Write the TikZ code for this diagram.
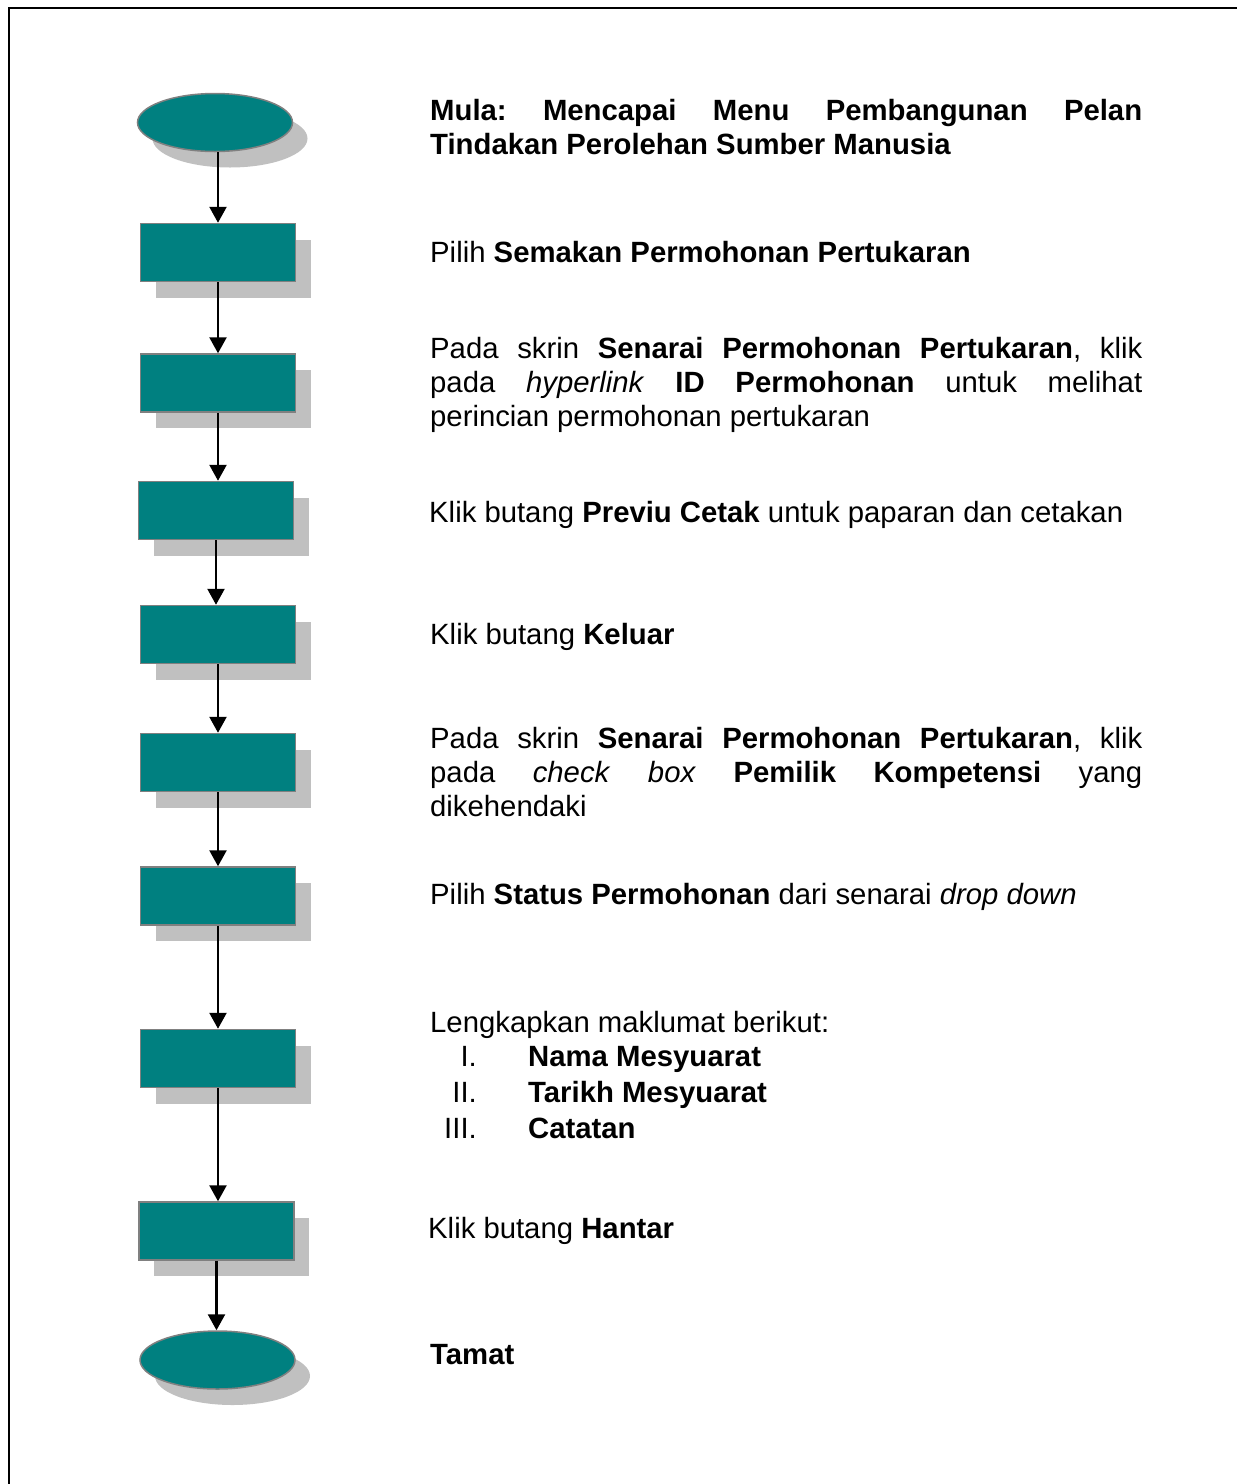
\documentclass[tikz,border=0pt]{standalone}
\usepackage{fontspec}
\setmainfont{Liberation Sans}
\usetikzlibrary{shapes.geometric,shadows,arrows.meta}
\definecolor{tealfill}{HTML}{008080}
\definecolor{edgegray}{HTML}{808080}
\definecolor{shadowgray}{HTML}{C0C0C0}
\begin{document}
\begin{tikzpicture}[x=1pt,y=-1pt,
  shadowed/.style={drop shadow={shadow xshift=15pt, shadow yshift=-16pt, fill=shadowgray, opacity=1}},
  procbox/.style={rectangle, draw=edgegray, line width=1.5pt, fill=tealfill,
    minimum width=155pt, minimum height=58pt, inner sep=0pt, shadowed},
  termnode/.style={ellipse, draw=edgegray, line width=1.5pt, fill=tealfill,
    minimum width=155pt, minimum height=58pt, inner sep=0pt, shadowed},
  arr/.style={line width=2.4pt, -{Triangle[width=17pt,length=16pt]}},
  txt/.style={anchor=base west, inner sep=0pt, font=\fontsize{29.3}{34}\selectfont},
  numtxt/.style={anchor=base east, inner sep=0pt, font=\fontsize{29.3}{34}\selectfont}]
\useasboundingbox (0,0) rectangle (1237,1484);
% frame
\draw[line width=2.5pt] (9,1484) -- (9,8) -- (1237,8);
% shapes
\node[termnode] (e1) at (215,122.5) {};
\node[procbox] (b1) at (218,252.5) {};
\node[procbox] (b2) at (218,383) {};
\node[procbox] (b3) at (216,510.5) {};
\node[procbox] (b4) at (218,634.5) {};
\node[procbox] (b5) at (218,762.5) {};
\node[procbox] (b6) at (218,896) {};
\node[procbox] (b7) at (218,1058.5) {};
\node[procbox] (b8) at (216.5,1231) {};
\node[termnode] (e2) at (217.5,1360) {};
% connectors
\draw[arr] (b1.north |- e1.south) -- (b1.north);
\draw[arr] (b1.south) -- (b1.south |- b2.north);
\draw[arr] (b2.south) -- (b2.south |- b3.north);
\draw[arr] (b3.south) -- (b3.south |- b4.north);
\draw[arr] (b4.south) -- (b4.south |- b5.north);
\draw[arr] (b5.south) -- (b5.south |- b6.north);
\draw[arr] (b6.south) -- (b6.south |- b7.north);
\draw[arr] (b7.south) -- (b7.south |- b8.north);
\draw[arr] (b8.south) -- (b8.south |- e2.north);
% texts
\node[txt] (t1a) at (430,120) {\hbox to 712pt{\bfseries Mula:\hfill Mencapai\hfill Menu\hfill Pembangunan\hfill Pelan}};
\node[txt] (t1b) at (430,154) {\textbf{Tindakan Perolehan Sumber Manusia}};
\node[txt] (t2) at (430,262) {Pilih \textbf{Semakan Permohonan Pertukaran}};
\node[txt] (t3a) at (430,358) {\hbox to 712pt{Pada\hfill skrin\hfill \textbf{Senarai}\hfill \textbf{Permohonan}\hfill \textbf{Pertukaran},\hfill klik}};
\node[txt] (t3b) at (430,392) {\hbox to 712pt{pada\hfill \textit{hyperlink}\hfill \textbf{ID}\hfill \textbf{Permohonan}\hfill untuk\hfill melihat}};
\node[txt] (t3c) at (430,426) {perincian permohonan pertukaran};
\node[txt] (t4) at (429,522) {Klik butang \textbf{Previu Cetak} untuk paparan dan cetakan};
\node[txt] (t5) at (430,644) {Klik butang \textbf{Keluar}};
\node[txt] (t6a) at (430,748) {\hbox to 712pt{Pada\hfill skrin\hfill \textbf{Senarai}\hfill \textbf{Permohonan}\hfill \textbf{Pertukaran},\hfill klik}};
\node[txt] (t6b) at (430,782) {\hbox to 712pt{pada\hfill \textit{check}\hfill \textit{box}\hfill \textbf{Pemilik}\hfill \textbf{Kompetensi}\hfill yang}};
\node[txt] (t6c) at (430,816) {dikehendaki};
\node[txt] (t7) at (430,904) {Pilih \textbf{Status Permohonan} dari senarai \textit{drop down}};
\node[txt] (t8) at (430,1032) {Lengkapkan maklumat berikut:};
\node[numtxt] (n1) at (477,1066) {I.};
\node[txt] (i1) at (528,1066) {\textbf{Nama Mesyuarat}};
\node[numtxt] (n2) at (477,1102) {II.};
\node[txt] (i2) at (528,1102) {\textbf{Tarikh Mesyuarat}};
\node[numtxt] (n3) at (477,1138) {III.};
\node[txt] (i3) at (528,1138) {\textbf{Catatan}};
\node[txt] (t9) at (428,1238) {Klik butang \textbf{Hantar}};
\node[txt] (t10) at (430,1364) {\textbf{Tamat}};
\end{tikzpicture}
\end{document}
